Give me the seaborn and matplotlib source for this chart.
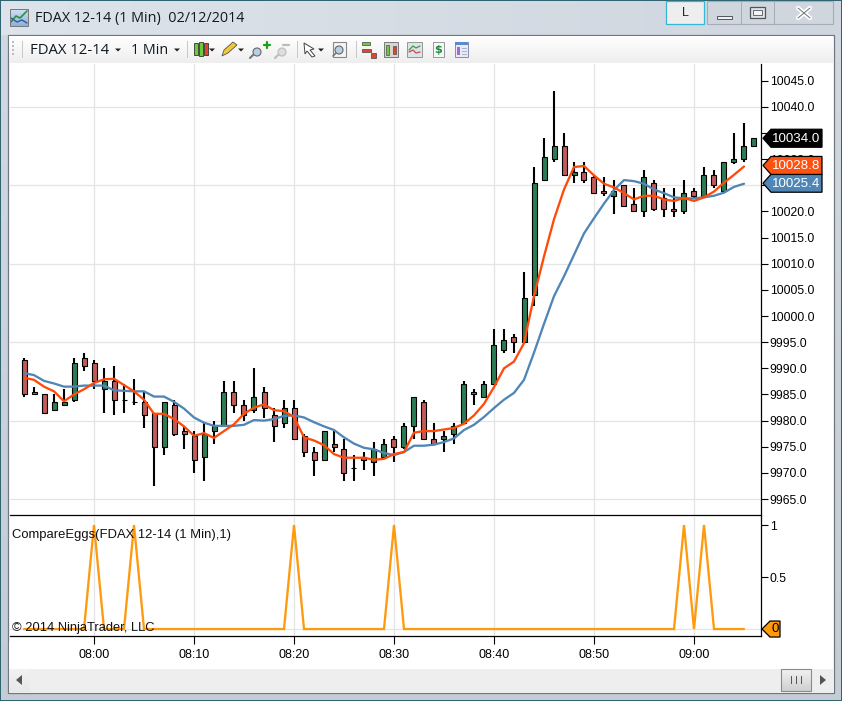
import numpy as np
import pandas as pd
import matplotlib
matplotlib.use("Agg")
import matplotlib.pyplot as plt
import seaborn as sns
from matplotlib.colors import LinearSegmentedColormap
from matplotlib.patches import Rectangle, Polygon, Circle

# candles, one per minute, first bar is 07:53
minutes = list(range(-7, 67))
opens = [9991.5, 9985.5, 9985, 9982, 9983, 9984, 9992, 9991, 9986, 9987.5, 9984, 9983.5, 9983.5, 9981.5, 9975, 9983,
         9978, 9977, 9973, 9978, 9979, 9985.5, 9983, 9982, 9985.5, 9981, 9979.5, 9982.5, 9977, 9974, 9972.5, 9975.5,
         9974.5, 9971, 9973, 9972, 9973, 9976.5, 9975, 9979, 9983.5, 9976.5, 9976.5, 9977.5, 9979.5, 9985.5, 9984.5,
         9987, 9993.5, 9996, 9995, 10004, 10026, 10030, 10032.5, 10027, 10027.5, 10026.5, 10024, 10023, 10025,
         10021.5, 10020, 10025.5, 10022.5, 10020.5, 10020, 10024, 10023, 10027, 10024, 10029.5, 10030, 10032.5]
highs = [9992, 9986.5, 9985, 9985, 9986, 9992, 9993, 9991.5, 9990, 9990.5, 9987, 9988, 9985.5, 9981.5, 9983.5, 9984,
         9979, 9978, 9979.5, 9980, 9987.5, 9987.5, 9984, 9990, 9986.5, 9982.5, 9984, 9984, 9977.5, 9975, 9978, 9978,
         9976.5, 9973.5, 9974, 9976, 9976.5, 9977, 9979.5, 9984.5, 9984, 9979.5, 9978, 9979.5, 9987.5, 9986, 9987.5,
         9997.5, 9997.5, 9996.5, 10008.5, 10028.5, 10034, 10043, 10035, 10029.5, 10029.5, 10027, 10026.5, 10026, 10025,
         10024.5, 10028, 10026, 10024.5, 10024.5, 10026, 10024.5, 10028.5, 10028, 10029.5, 10035, 10037, 10034]
lows = [9984.5, 9985, 9981.5, 9982, 9983, 9983.5, 9989.5, 9986, 9981.5, 9981, 9981.5, 9983, 9978.5, 9967.5, 9973.5, 9977,
        9974.5, 9970, 9968.5, 9975.5, 9979, 9981.5, 9980, 9981.5, 9980.5, 9976, 9978.5, 9976.5, 9973, 9969.5, 9972.5, 9974,
        9968.5, 9968.5, 9970.5, 9969.5, 9973, 9972, 9974.5, 9976.5, 9976.5, 9975.5, 9974, 9975.5, 9979.5, 9983, 9984.5,
        9987, 9993, 9993, 9995, 10002, 10026, 10029.5, 10027, 10025.5, 10025.5, 10023.5, 10023, 10019.5, 10021,
        10020, 10019, 10020, 10019, 10019, 10019.5, 10022.5, 10023, 10024.5, 10024, 10029, 10029.5, 10032.5]
closes = [9985, 9985, 9981.5, 9983.5, 9983.5, 9991, 9990.5, 9987.5, 9987.5, 9984, 9984, 9983.5, 9981, 9975, 9983.5, 9977.5,
          9977.5, 9972.5, 9977.5, 9979, 9985.5, 9983, 9981, 9984.5, 9982.5, 9979, 9982.5, 9976.5, 9974, 9972.5, 9978, 9975,
          9970, 9971, 9972.5, 9974.5, 9975.5, 9975, 9979, 9984.5, 9976.5, 9975.5, 9977, 9979, 9987, 9985, 9987,
          9994.5, 9995.5, 9995, 10003.5, 10025.5, 10030.5, 10032.5, 10027, 10027.5, 10026, 10023.5, 10023.5, 10024, 10021,
          10020, 10026.5, 10020.5, 10020.5, 10020, 10023.5, 10023, 10027, 10025, 10029.5, 10030, 10032.5, 10034]

# the two moving averages and the lower panel stop one bar before the last candle
fast_avg = [9988.2, 9987.8, 9986.5, 9985.6, 9983.7, 9985, 9986, 9987.2, 9987.9, 9988, 9986.8, 9985.6, 9984, 9981.3,
            9981.3, 9980.3, 9978.9, 9977.1, 9977.6, 9976.7, 9978, 9979.3, 9981.3, 9982.5, 9983.1, 9982, 9981.8, 9980.7,
            9976.8, 9976.2, 9975.3, 9973.6, 9972.9, 9972.9, 9972.9, 9972.5, 9972.7, 9973.6, 9974, 9977.7, 9978, 9978,
            9978.3, 9978.6, 9979.4, 9981, 9983.2, 9986.4, 9990, 9991.3, 9994.8, 10003.8, 10011.4, 10018.5, 10024.2,
            10028.5, 10028.7, 10026.9, 10025.3, 10024.6, 10023.5, 10022.3, 10023, 10023, 10022.3, 10022, 10022.6, 10022,
            10022.7, 10023.8, 10025.5, 10027, 10028.6]
slow_avg = [9989.1, 9988.7, 9987.6, 9987.1, 9986.5, 9986.5, 9986.7, 9986.7, 9986.7, 9985.8, 9985.7, 9985.6, 9985.6, 9984.6,
            9984.6, 9983.6, 9982.3, 9980.6, 9979.6, 9979, 9979, 9979, 9979.2, 9980.1, 9980, 9980.3, 9980.9, 9981,
            9980.6, 9979.7, 9978.9, 9978.2, 9976.8, 9975.6, 9974.8, 9974.5, 9973.8, 9973.4, 9974, 9975.2, 9975.2, 9975.4,
            9975.9, 9976.6, 9978.2, 9979.2, 9980.7, 9982.4, 9984, 9985.3, 9987.8, 9993, 9998.5, 10003.8, 10007.6,
            10011.7, 10015.8, 10018.7, 10021.5, 10024.1, 10026, 10025.8, 10025.3, 10024.2, 10023.5, 10022.7, 10022.5, 10022.5,
            10022.7, 10023, 10023.6, 10024.7, 10025.3]
signal = [0, 0, 0, 0, 0, 0, 0, 1, 0, 0, 0, 1, 0, 0, 0, 0, 0, 0, 0, 0,
          0, 0, 0, 0, 0, 0, 0, 1, 0, 0, 0, 0, 0, 0, 0, 0, 0, 1, 0, 0,
          0, 0, 0, 0, 0, 0, 0, 0, 0, 0, 0, 0, 0, 0, 0, 0, 0, 0, 0, 0,
          0, 0, 0, 0, 0, 0, 1, 0, 1, 0, 0, 0, 0]

price_ticks = [9965, 9970, 9975, 9980, 9985, 9990, 9995, 10000, 10005, 10010, 10015, 10020, 10025, 10030, 10035, 10040, 10045]
price_grid = [9965, 9980, 9995, 10010, 10025, 10040]
time_ticks = [0, 10, 20, 30, 40, 50, 60]
time_labels = ["08:00", "08:10", "08:20", "08:30", "08:40", "08:50", "09:00"]
last_close = 10034.0
last_fast = 10028.8
last_slow = 10025.4

UP = "#2c7d55"
DOWN = "#c25a5a"
FAST = "#ff4a0a"
SLOW = "#4f86b6"
SIGNAL = "#ff9a0d"
GRID = "#e4e4e4"
W, H = 842, 701

sns.set_theme(style="white")
plt.rcParams["font.family"] = ["Liberation Sans", "DejaVu Sans"]

fig = plt.figure(figsize=(W / 100, H / 100), dpi=100)


def pixel_axes(zorder):
    a = fig.add_axes([0, 0, 1, 1], zorder=zorder)
    a.set_xlim(0, W)
    a.set_ylim(H, 0)
    a.axis("off")
    return a


def box(a, x0, y0, x1, y1, fc, ec="none", lw=0.8, z=2):
    a.add_patch(Rectangle((x0, y0), x1 - x0, y1 - y0, fc=fc, ec=ec, lw=lw, zorder=z))


def gradient(a, x0, y0, x1, y1, c0, c1, z=1, horiz=False):
    cmap = LinearSegmentedColormap.from_list("g", [c0, c1])
    arr = np.linspace(0, 1, 64)
    arr = arr.reshape(1, -1) if horiz else arr.reshape(-1, 1)
    a.imshow(arr, extent=(x0, x1, y1, y0), cmap=cmap, aspect="auto", zorder=z)
    a.set_xlim(0, W)
    a.set_ylim(H, 0)


# window chrome under the chart
back = pixel_axes(0)
box(back, 0, 0, W, H, "#2f6470", z=0)
gradient(back, 1, 1, W - 1, H - 1, "#d2d9e2", "#c4ccd6")
gradient(back, 1, 1, W - 1, 35, "#dde3ea", "#cfd6df", z=1.5, horiz=True)
box(back, 8, 35, 834, 693, "#ffffff", ec="#6f7780", lw=0.9)
gradient(back, 9, 36, 833, 63, "#ffffff", "#eeeeee", z=2.5)
box(back, 9, 669, 833, 692, "#eeeeee", z=2.5)
box(back, 9, 642, 833, 669, "#ffffff", z=2.2)

# price panel
ax = fig.add_axes([10 / W, 1 - 515 / H, 751 / W, 451 / H], zorder=1)
ax.patch.set_alpha(0)
candles = pd.DataFrame({"minute": minutes, "open": opens, "high": highs, "low": lows, "close": closes})
candles["color"] = np.where(candles["close"] >= candles["open"], UP, DOWN)
lines = pd.DataFrame({"minute": minutes[:-1], "fast": fast_avg, "slow": slow_avg, "signal": signal})

ax.vlines(candles["minute"], candles["low"], candles["high"], color="black", lw=1.5, zorder=3)
ax.bar(candles["minute"], (candles["close"] - candles["open"]).abs(), bottom=candles[["open", "close"]].min(axis=1),
       width=0.5, color=candles["color"], edgecolor="black", linewidth=0.8, zorder=4)
sns.lineplot(data=lines, x="minute", y="slow", color=SLOW, linewidth=1.65, errorbar=None, ax=ax, zorder=5)
sns.lineplot(data=lines, x="minute", y="fast", color=FAST, linewidth=1.65, errorbar=None, ax=ax, zorder=6)

ax.set_xlim(-8.4, 66.7)
ax.set_ylim(9961.95, 10048.2)
ax.set_xlabel("")
ax.set_ylabel("")
ax.set_xticks(time_ticks)
ax.set_xticklabels([])
ax.tick_params(axis="x", length=0)
ax.yaxis.tick_right()
ax.set_yticks(price_ticks)
ax.set_yticklabels([f"{p:.1f}" for p in price_ticks], fontsize=8.7, color="black")
ax.tick_params(axis="y", length=5, width=0.8, color="black", pad=1.2, right=True)
for y in price_grid:
    ax.axhline(y, color=GRID, lw=0.9, zorder=1)
for x in time_ticks:
    ax.axvline(x, color=GRID, lw=0.9, zorder=1)
for s in ["top", "left"]:
    ax.spines[s].set_visible(False)
ax.spines["right"].set_color("black")
ax.spines["right"].set_linewidth(0.9)
ax.spines["bottom"].set_color("black")
ax.spines["bottom"].set_linewidth(0.9)

# indicator panel
ax2 = fig.add_axes([10 / W, 1 - 636 / H, 751 / W, 120 / H], zorder=1)
ax2.patch.set_alpha(0)
ax2.axhline(0, color=GRID, lw=0.9, zorder=1)
for x in time_ticks:
    ax2.axvline(x, color=GRID, lw=0.9, zorder=1)
sns.lineplot(data=lines, x="minute", y="signal", color=SIGNAL, linewidth=1.65, errorbar=None, ax=ax2, zorder=5)
ax2.lines[-1].set_solid_joinstyle("miter")
ax2.set_xlim(-8.4, 66.7)
ax2.set_ylim(-0.067, 1.087)
ax2.set_xlabel("")
ax2.set_ylabel("")
ax2.set_xticks(time_ticks)
ax2.set_xticklabels(time_labels, fontsize=9, color="black")
ax2.tick_params(axis="x", length=6, width=0.8, color="black", pad=3, bottom=True)
ax2.yaxis.tick_right()
ax2.set_yticks([0.5, 1])
ax2.set_yticklabels(["0.5", "1"], fontsize=8.7, color="black")
ax2.tick_params(axis="y", length=5, width=0.8, color="black", pad=1.2, right=True)
for s in ["top", "left"]:
    ax2.spines[s].set_visible(False)
ax2.spines["right"].set_color("black")
ax2.spines["right"].set_linewidth(0.9)
ax2.spines["bottom"].set_color("black")
ax2.spines["bottom"].set_linewidth(0.9)

# overlay: value flags, panel captions and toolbar
top = pixel_axes(3)
top.patch.set_alpha(0)
fig.canvas.draw()


def to_pixel_y(a, value):
    return H - a.transData.transform((0, value))[1]


def flag(a, value, label, fc, tc, x0=763, x1=822, half=9, tip=8, size=9.6):
    y = to_pixel_y(a, value)
    top.add_patch(Polygon([(x0, y), (x0 + tip, y - half), (x1, y - half), (x1, y + half), (x0 + tip, y + half)],
                          closed=True, fc=fc, ec="black", lw=0.9, zorder=6))
    top.text((x0 + tip + x1) / 2, y + 0.3, label, color=tc, ha="center", va="center", fontsize=size, zorder=7)


flag(ax, last_close, f"{last_close:.1f}", "black", "white")
flag(ax, last_slow, f"{last_slow:.1f}", SLOW, "white")
flag(ax, last_fast, f"{last_fast:.1f}", "#ff5210", "white")
flag(ax2, 0, "0", SIGNAL, "black", x0=762, x1=780, half=8)

top.text(12, 535, "CompareEggs(FDAX 12-14 (1 Min),1)", fontsize=9.4, color="#111111", va="center")
top.text(11.5, 628, "\u00a9 2014 NinjaTrader, LLC", fontsize=9.3, color="#111111", va="center")

ui = ["Open Sans", "DejaVu Sans"]
top.text(35, 18.5, "FDAX 12-14 (1 Min)  02/12/2014", fontsize=10.4, color="#101820", va="center", family=ui)
top.text(30, 50, "FDAX 12-14", fontsize=10.7, color="#101820", va="center", family=ui)
top.text(131, 50, "1 Min", fontsize=10.3, color="#101820", va="center", family=ui)


def arrow(x, y=50):
    top.add_patch(Polygon([(x - 3, y - 1.5), (x + 3, y - 1.5), (x, y + 1.5)], fc="#222222", ec="none", zorder=6))


for x in [118, 177, 212, 241, 321]:
    arrow(x)
for x in [22, 187, 297, 356]:
    box(top, x, 41, x + 1, 58, "#c8c8c8", z=6)
for y in [41, 45, 49, 53]:
    box(top, 12, y, 14, y + 2, "#bdbdbd", z=6)

# title bar icon
gradient(back, 10, 9, 28, 26, "#cfe0f2", "#8fb0d8", z=3)
back.plot([11, 16, 20, 27], [22, 16, 18, 11], color="#2f8f3f", lw=1.2, zorder=4)
back.plot([11, 17, 22, 27], [18, 22, 20, 23], color="#2a5cb0", lw=1.0, zorder=4)
box(back, 10, 9, 28, 26, "none", ec="#777777", lw=0.7, z=4)

# candle icon
for x, c, y0, y1 in [(194, "#6ec93b", 43, 55), (199, "#6ec93b", 42, 56), (204, "#e2462d", 43, 55)]:
    box(top, x, y0, x + 3.5, y1, c, ec="#333333", lw=0.6, z=6)
# pencil
top.add_patch(Polygon([(222, 56), (224, 50), (233, 42), (237, 45), (228, 53)], fc="#f0c830", ec="#555555", lw=0.6, zorder=6))
# magnifiers
for x, y, c, e in [(257, 52, "#b9cfe6", "#666666"), (282, 52, "#dddddd", "#bbbbbb"), (339, 50, "#b9cfe6", "#666666")]:
    top.add_patch(Circle((x, y), 4, fc=c, ec=e, lw=0.8, zorder=7))
top.plot([253, 250], [55, 58], color="#777777", lw=1.5, zorder=7)
top.plot([278, 275], [55, 58], color="#bbbbbb", lw=1.5, zorder=7)
top.plot([336, 333], [53, 56], color="#777777", lw=1.2, zorder=7)
top.plot([264, 270], [45, 45], color="#1aa01a", lw=1.6, zorder=7)
top.plot([267, 267], [42, 48], color="#1aa01a", lw=1.6, zorder=7)
top.plot([283, 289], [45, 45], color="#bbbbbb", lw=1.6, zorder=7)
box(top, 333, 42, 346, 57, "#f4f4f4", ec="#888888", z=6)
# pointer
top.add_patch(Polygon([(304, 43), (314, 49), (310, 50), (315, 56), (312, 57), (307, 51), (305, 54)], fc="white", ec="#444444", lw=0.7, zorder=6))
# report icons
box(top, 362, 42, 370, 45, "#6ec93b", ec="#444444", lw=0.5, z=6)
box(top, 362, 49, 371, 52, "#e2462d", ec="#444444", lw=0.5, z=6)
box(top, 371, 53, 376, 58, "#e2462d", ec="#444444", lw=0.5, z=6)
box(top, 384, 42, 398, 57, "#d6d6d6", ec="#666666", lw=0.6, z=6)
box(top, 386, 45, 389, 55, "#6ec93b", ec="#333333", lw=0.4, z=7)
box(top, 393, 46, 396, 54, "#e2462d", ec="#333333", lw=0.4, z=7)
box(top, 407, 42, 422, 57, "#dde3e6", ec="#888888", lw=0.6, z=6)
top.plot([409, 413, 416, 420], [50, 46, 48, 46], color="#3a9a4a", lw=0.9, zorder=7)
top.plot([409, 413, 416, 420], [52, 50, 53, 52], color="#cc4a4a", lw=0.9, zorder=7)
box(top, 433, 42, 444, 57, "#f7f7f7", ec="#888888", lw=0.6, z=6)
top.text(438.5, 50, "$", color="#1c8a3a", fontsize=8, fontweight="bold", ha="center", va="center", zorder=7, family="DejaVu Sans")
box(top, 455, 42, 468, 57, "#eaeaf4", ec="#7a7aa8", lw=0.6, z=6)
box(top, 455, 42, 468, 45, "#5a8ccc", z=7)
box(top, 457, 47, 460, 55, "#a56cd0", z=7)
for y in [48, 51, 54]:
    box(top, 462, y, 467, y + 1, "#a8b4cc", z=7)

# window buttons
box(top, 666, 1, 704, 24, "#eeeeee", ec="#35b8d8", lw=0.9, z=6)
top.text(685, 13, "L", fontsize=9, color="#202040", ha="center", va="center", zorder=7)
box(top, 707, 1, 833, 24, "#cfd6de", ec="#a4acb6", lw=0.8, z=5)
box(top, 741, 1, 742, 24, "#a4acb6", z=6)
box(top, 774, 1, 775, 24, "#a4acb6", z=6)
box(top, 717, 16, 732, 19, "#f0f0f0", ec="#50565e", lw=0.7, z=6)
box(top, 750, 7, 765, 18, "#dfe3e8", ec="#50565e", lw=0.9, z=6)
box(top, 753, 10, 762, 15, "#f4f4f4", ec="#50565e", lw=0.6, z=7)
top.plot([798, 810], [8, 18], color="white", lw=3.2, zorder=6)
top.plot([798, 810], [18, 8], color="white", lw=3.2, zorder=6)
top.plot([798, 810], [8, 18], color="#6c7278", lw=0.7, zorder=7)
top.plot([798, 810], [18, 8], color="#6c7278", lw=0.7, zorder=7)

# scrollbar
gradient(top, 9, 669, 30, 692, "#f2f2f2", "#e8e8e8", z=5)
top.add_patch(Polygon([(22, 675), (22, 685), (16, 680)], fc="#555555", ec="none", zorder=6))
gradient(top, 781, 669, 811, 691, "#f2f2f2", "#cfcfcf", z=5)
box(top, 781, 669, 811, 691, "none", ec="#8a8a8a", lw=0.8, z=6)
for x in [791, 796, 801]:
    box(top, x, 676, x + 1, 684, "#555555", z=7)
top.add_patch(Polygon([(820, 675), (820, 685), (826, 680)], fc="#555555", ec="none", zorder=6))
top.set_xlim(0, W)
top.set_ylim(H, 0)

fig.savefig("out.png", dpi=100)
